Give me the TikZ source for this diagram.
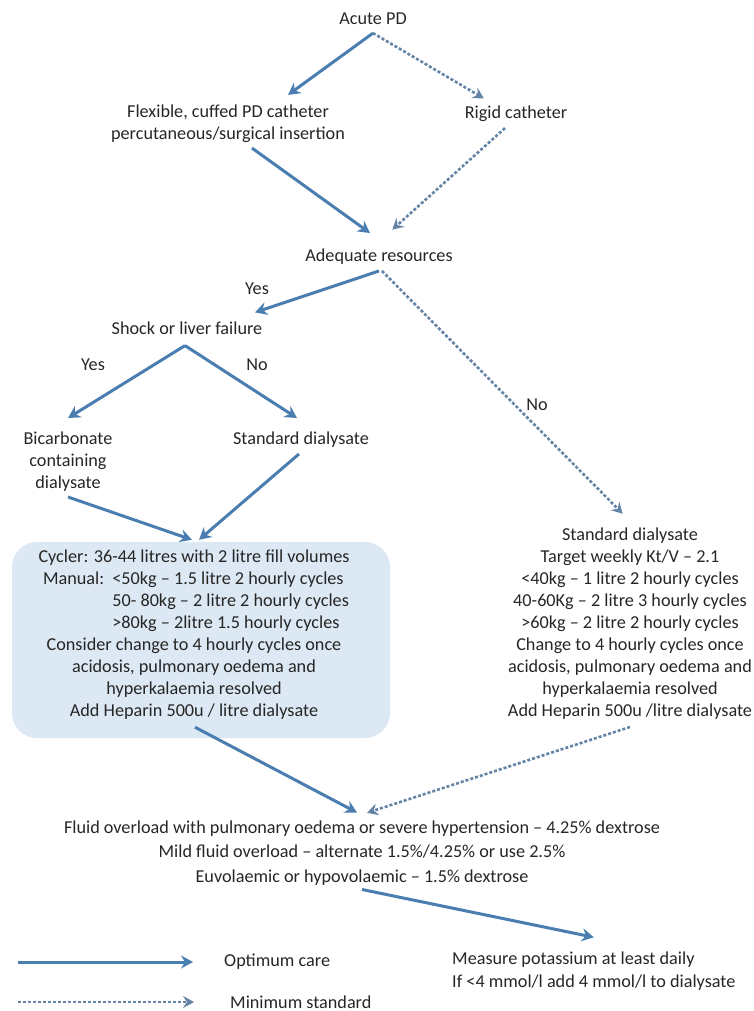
\documentclass[tikz,border=0pt]{standalone}
\usepackage{fontspec}
\setmainfont{Carlito}
\usetikzlibrary{arrows.meta,positioning}

\definecolor{flowblue}{RGB}{74,126,176}
\definecolor{dotblue}{RGB}{100,132,165}
\definecolor{carefill}{RGB}{220,232,243}
\definecolor{ink}{RGB}{38,38,38}

\begin{document}
\begin{tikzpicture}[
    x=1pt, y=-1pt,
    txt/.style={inner sep=0pt, align=center, text=ink, font=\fontsize{18.2}{22}\selectfont},
    optline/.style={draw=flowblue, line width=3pt, -{Stealth[length=12pt,width=13pt,inset=4pt]}},
    minline/.style={draw=dotblue, line width=2.6pt, dash pattern=on 3pt off 2pt, -{Stealth[length=11pt,width=12pt,inset=4pt,sep=-1pt]}},
    roundbox/.style={fill=carefill, rounded corners=25pt, minimum width=378pt, minimum height=196pt, inner sep=0pt}
  ]
    \useasboundingbox (0,0) rectangle (754,1011);

    % top: catheter choice
    \node[txt] (acute) at (373,19) {Acute PD};
    \node[txt] (flex) at (228,124) {Flexible, cuffed PD catheter\\ percutaneous/surgical insertion};
    \node[txt] (rigid) at (516,114) {Rigid catheter};
    \node[txt] (adequate) at (379,257) {Adequate resources};

    % adequate resources
    \node[txt] (yesA) at (257,289) {Yes};
    \node[txt] (shock) at (187,328) {Shock or liver failure};
    \node[txt] (yesB) at (93,365) {Yes};
    \node[txt] (noB) at (257,365) {No};
    \node[txt] (noA) at (537,405) {No};
    \node[txt] (bicarb) at (68,462) {Bicarbonate\\ containing\\ dialysate};
    \node[txt] (stdL) at (301,440) {Standard dialysate};

    \node[roundbox] (carebox) at (201,640) {};
    \node[txt] (care) at (194,635) {Cycler: 36-44 litres with 2 litre fill volumes\\
      \makebox[302pt][l]{Manual:\ \ <50kg -- 1.5 litre 2 hourly cycles}\\
      \makebox[302pt][l]{\phantom{Manual:\ \ }50- 80kg -- 2 litre 2 hourly cycles}\\
      \makebox[302pt][l]{\phantom{Manual:\ \ }>80kg -- 2litre 1.5 hourly cycles}\\
      Consider change to 4 hourly cycles once\\
      acidosis, pulmonary oedema and\\
      hyperkalaemia resolved\\
      Add Heparin 500u / litre dialysate};

    % inadequate resources
    \node[txt] (minimal) at (630,624) {Standard dialysate\\
      Target weekly Kt/V -- 2.1\\
      <40kg -- 1 litre 2 hourly cycles\\
      40-60Kg -- 2 litre 3 hourly cycles\\
      >60kg -- 2 litre 2 hourly cycles\\
      Change to 4 hourly cycles once\\
      acidosis, pulmonary oedema and\\
      hyperkalaemia resolved\\
      Add Heparin 500u /litre dialysate};

    % fluid and potassium
    \node[txt, font=\fontsize{18.2}{24.5}\selectfont] (fluid) at (362,853) {Fluid overload with pulmonary oedema or severe hypertension -- 4.25\% dextrose\\
      Mild fluid overload -- alternate 1.5\%/4.25\% or use 2.5\%\\
      Euvolaemic or hypovolaemic -- 1.5\% dextrose};
    \node[txt, align=left, anchor=west, font=\fontsize{18.2}{23.5}\selectfont] (measure) at (452,971) {Measure potassium at least daily\\
      If <4 mmol/l add 4 mmol/l to dialysate};

    % legend
    \coordinate (legOptA) at (18,962);
    \coordinate (legOptB) at (193,962);
    \coordinate (legMinA) at (18,1002);
    \coordinate (legMinB) at (193,1002);
    \node[txt, anchor=west] (optText) at (224,962) {Optimum care};
    \node[txt, anchor=west] (minText) at (230,1002) {Minimum standard};

    % connectors
    \draw[optline] ([yshift=-8pt]acute.south) -- ([xshift=60pt,yshift=10pt]flex.north);
    \draw[minline] ([yshift=-8pt]acute.south) -- ([xshift=-33pt,yshift=8pt]rigid.north);
    \draw[optline] ([xshift=24pt,yshift=-5pt]flex.south) -- ([xshift=-9pt,yshift=16pt]adequate.north);
    \draw[minline] ([xshift=-11pt,yshift=-6pt]rigid.south) -- ([xshift=14pt,yshift=20pt]adequate.north);
    \draw[optline] ([yshift=-6pt]adequate.south) -- ([xshift=68pt,yshift=9pt]shock.north);
    \draw[minline] ([xshift=3pt,yshift=-6pt]adequate.south) -- ([xshift=-8pt,yshift=15pt]minimal.north);
    \draw[optline] ([xshift=-2pt,yshift=-11pt]shock.south) -- ([yshift=14pt]bicarb.north);
    \draw[optline] ([xshift=-2pt,yshift=-11pt]shock.south) -- ([xshift=-4pt,yshift=14pt]stdL.north);
    \draw[optline] ([yshift=-5pt]bicarb.south) -- ([xshift=-9pt,yshift=2pt]carebox.north);
    \draw[optline] ([xshift=-2pt,yshift=-6pt]stdL.south) -- ([xshift=-2pt,yshift=2pt]carebox.north);
    \draw[optline] ([xshift=-6pt,yshift=11pt]carebox.south) -- ([xshift=-5pt,yshift=8pt]fluid.north);
    \draw[minline] ([yshift=-7pt]minimal.south) -- ([xshift=6pt,yshift=8pt]fluid.north);
    \draw[optline] ([yshift=-4pt]fluid.south) -- ([yshift=14pt]measure.north);
    \draw[optline] (legOptA) -- (legOptB);
    \draw[minline] (legMinA) -- (legMinB);
\end{tikzpicture}
\end{document}
